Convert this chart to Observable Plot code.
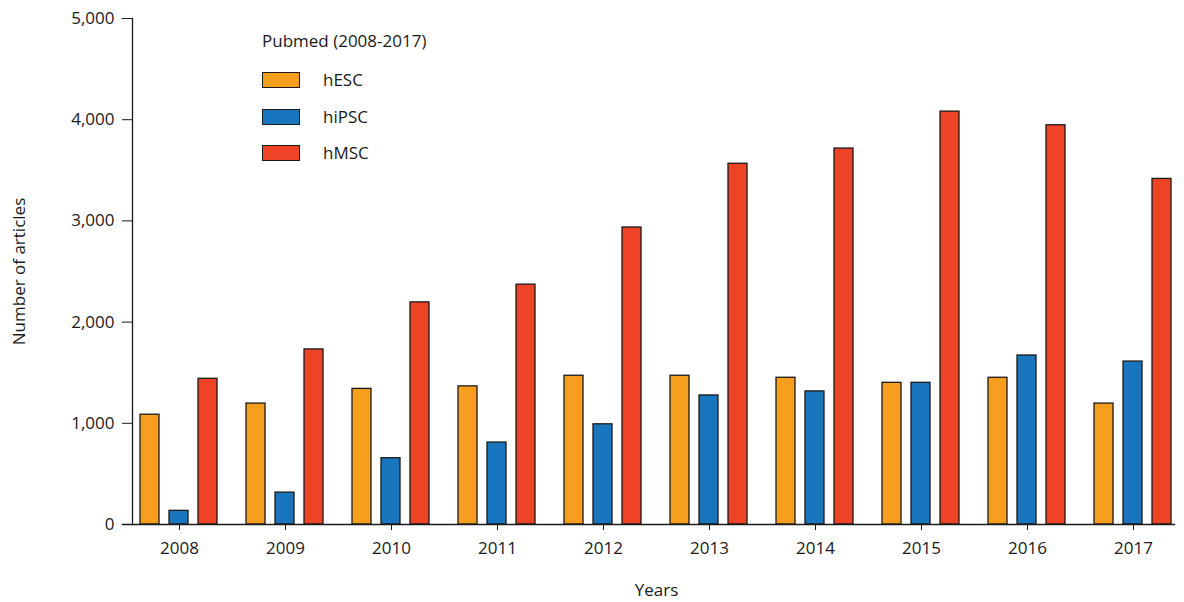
<!DOCTYPE html>
<html><head><meta charset="utf-8">
<script src="https://cdn.jsdelivr.net/npm/d3@7"></script>
<script src="https://cdn.jsdelivr.net/npm/@observablehq/plot@0.6"></script>
<style>
body{margin:0;background:#fff;}
#wrap{position:relative;width:1184px;height:602px;font-family:"Open Sans",sans-serif;color:#1a1a1a;}
#legend{position:absolute;left:262px;top:0;font-size:17px;}
#legend .title{position:absolute;left:0;top:29px;white-space:nowrap;line-height:24px;}
#legend .row{position:absolute;left:0;height:22px;line-height:22px;white-space:nowrap;}
#legend .sw{position:absolute;left:0;top:3px;width:36px;height:14px;border:1.3px solid #1a1a1a;}
#legend .lb{position:absolute;left:61px;top:0;}
</style></head>
<body><div id="wrap"><div id="legend"></div></div>
<script>
const years = ["2008","2009","2010","2011","2012","2013","2014","2015","2016","2017"];
const seriesNames = ["hESC","hiPSC","hMSC"];
const hESC  = [1085, 1195, 1340, 1365, 1470, 1470, 1450, 1400, 1450, 1195];
const hiPSC = [135, 315, 655, 810, 990, 1275, 1315, 1400, 1670, 1610];
const hMSC  = [1440, 1730, 2195, 2370, 2935, 3565, 3715, 4080, 3945, 3415];
const colors = ["#F69F1F", "#1776BD", "#EE4326"];
const yTicks = [0, 1000, 2000, 3000, 4000, 5000];
const legendTitle = "Pubmed (2008-2017)";

const seriesValues = {hESC, hiPSC, hMSC};
const data = years.flatMap((yr, i) => seriesNames.map(s => ({year: yr, series: s, value: seriesValues[s][i]})));

const chart = Plot.plot({
  width: 1184, height: 602,
  marginLeft: 132, marginRight: 0, marginTop: 18, marginBottom: 78,
  style: {fontFamily: "Open Sans", fontSize: "17px", color: "#1a1a1a", background: "#fff"},
  fx: {domain: years, paddingInner: 0.117, paddingOuter: 0, align: 0},
  x: {domain: seriesNames, paddingInner: 0.343, paddingOuter: 0.254, axis: null},
  y: {domain: [0, 5000]},
  color: {domain: seriesNames, range: colors},
  marks: [
    Plot.barY(data, {fx: "year", x: "series", y: "value", fill: "series", stroke: "#1a1a1a", strokeWidth: 1.3}),
    Plot.axisY({ticks: yTicks, tickSize: 10, tickPadding: 8, tickFormat: d3.format(","), label: "Number of articles", labelAnchor: "center", labelArrow: "none", labelOffset: 120}),
    Plot.axisFx({anchor: "bottom", tickSize: 6, tickPadding: 11, label: "Years", labelAnchor: "center", labelOffset: 71}),
    Plot.frame({anchor: "left", facet: "super", strokeWidth: 1.3}),
    Plot.frame({anchor: "bottom", facet: "super", insetLeft: -10, insetRight: 6, strokeWidth: 1.3})
  ]
});
const wrap = document.getElementById("wrap");
wrap.insertBefore(chart, wrap.firstChild);

const legend = document.getElementById("legend");
const t = document.createElement("div"); t.className = "title"; t.textContent = legendTitle; legend.appendChild(t);
seriesNames.forEach((s, i) => {
  const r = document.createElement("div"); r.className = "row"; r.style.top = (69 + i * 36.5) + "px";
  const sw = document.createElement("div"); sw.className = "sw"; sw.style.background = colors[i];
  const lb = document.createElement("div"); lb.className = "lb"; lb.textContent = s;
  r.appendChild(sw); r.appendChild(lb); legend.appendChild(r);
});
</script>
</body></html>
